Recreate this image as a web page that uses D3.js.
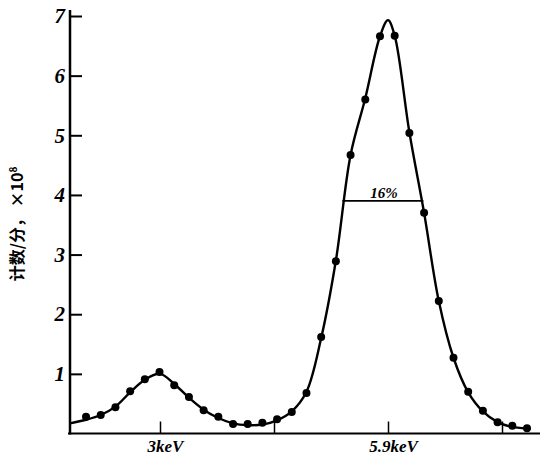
<!DOCTYPE html>
<html>
<head>
<meta charset="utf-8">
<script src="https://cdn.jsdelivr.net/npm/d3@7"></script>
<style>
    body { margin: 0; background: #fff; }
    .tick-label { font-family: 'Liberation Serif', serif; font-style: italic; font-weight: bold; }
</style>
</head>
<body>
<div id="myChart"></div>
<script>
// measured points (energy in keV, counts/min x10^8)
let energies = [2.059, 2.246, 2.433, 2.620, 2.807, 2.994, 3.181, 3.368, 3.555, 3.742,
    3.929, 4.115, 4.302, 4.489, 4.676, 4.863, 5.050, 5.237, 5.424, 5.611,
    5.798, 5.985, 6.172, 6.359, 6.546, 6.733, 6.920, 7.107, 7.294, 7.481, 7.668];
let counts = [0.28, 0.31, 0.44, 0.71, 0.91, 1.03, 0.81, 0.61, 0.39, 0.28,
    0.16, 0.16, 0.18, 0.24, 0.36, 0.68, 1.62, 2.89, 4.67, 5.60,
    6.66, 6.67, 5.04, 3.70, 2.22, 1.27, 0.70, 0.38, 0.19, 0.13, 0.09];

// hand drawn fit curve
let curveE = [1.855, 2.059, 2.246, 2.433, 2.620, 2.807, 3.0, 3.181, 3.368, 3.555, 3.742,
    3.929, 4.115, 4.302, 4.489, 4.676, 4.863, 5.050, 5.237, 5.424, 5.611,
    5.798, 5.9, 5.985, 6.172, 6.359, 6.546, 6.733, 6.920, 7.107, 7.294, 7.481, 7.71];
let curveV = [0.17, 0.23, 0.31, 0.45, 0.69, 0.90, 1.0, 0.83, 0.60, 0.40, 0.26,
    0.17, 0.14, 0.15, 0.22, 0.37, 0.70, 1.60, 2.90, 4.67, 5.62,
    6.66, 6.93, 6.67, 5.05, 3.70, 2.22, 1.27, 0.69, 0.37, 0.19, 0.11, 0.08];

let yTicks = [1, 2, 3, 4, 5, 6, 7];
let xTicks = [3, 4.45, 5.9, 7.35];
let xTickLabels = { 3: '3keV', 5.9: '5.9keV' };
let fwhm = { left: 5.32, right: 6.35, level: 3.9, label: '16%' };

let width = 543, height = 456;

let svg = d3
    .select('#myChart')
    .append('svg')
    .attr('width', width)
    .attr('height', height);

let x = d3.scaleLinear().domain([3, 5.9]).range([160, 388]);
let y = d3.scaleLinear().domain([0, 7]).range([433.5, 16]);

// y axis (ticks pointing inwards)
let yAxis = svg.append('g')
    .attr('transform', 'translate(70,0)')
    .call(d3.axisLeft(y).tickValues(yTicks).tickFormat(d3.format('d'))
        .tickSizeInner(-12).tickSizeOuter(0).tickPadding(5));
yAxis.select('.domain').remove();
yAxis.selectAll('line').attr('stroke', '#000').attr('stroke-width', 2);
yAxis.selectAll('text')
    .attr('class', 'tick-label')
    .style('font-size', '21px')
    .attr('fill', '#000');

svg.append('line')
    .attr('x1', 70).attr('x2', 70)
    .attr('y1', 10).attr('y2', y(0) + 1)
    .attr('stroke', '#000')
    .attr('stroke-width', 2.5);

// x axis
let xAxis = svg.append('g')
    .attr('transform', 'translate(0,' + y(0) + ')')
    .call(d3.axisBottom(x).tickValues(xTicks).tickSizeInner(-12).tickSizeOuter(0).tickPadding(5)
        .tickFormat((d) => xTickLabels[d] || ''));
xAxis.select('.domain').remove();
xAxis.selectAll('line').attr('stroke', '#000').attr('stroke-width', 1.5);
xAxis.selectAll('text')
    .attr('class', 'tick-label')
    .attr('dx', 5)
    .attr('dy', '0.8em')
    .style('font-size', '17px')
    .attr('fill', '#000');

svg.append('line')
    .attr('x1', 68).attr('x2', 540)
    .attr('y1', y(0)).attr('y2', y(0))
    .attr('stroke', '#000')
    .attr('stroke-width', 2.2);

// fitted curve
let line = d3.line()
    .x((d, i) => x(curveE[i]))
    .y((d) => y(d))
    .curve(d3.curveCatmullRom.alpha(0.5));

svg.append('path')
    .datum(curveV)
    .attr('d', line)
    .attr('fill', 'none')
    .attr('stroke', '#000')
    .attr('stroke-width', 2.4);

// data points
svg.selectAll('.dot')
    .data(counts)
    .enter()
    .append('circle')
    .attr('class', 'dot')
    .attr('cx', (d, i) => x(energies[i]))
    .attr('cy', (d) => y(d))
    .attr('r', 4)
    .attr('fill', '#000');

// FWHM marker
svg.append('line')
    .attr('x1', x(fwhm.left)).attr('x2', x(fwhm.right))
    .attr('y1', y(fwhm.level)).attr('y2', y(fwhm.level))
    .attr('stroke', '#000')
    .attr('stroke-width', 1.8);

svg.append('text')
    .attr('class', 'tick-label')
    .attr('x', (x(fwhm.left) + x(fwhm.right)) / 2 + 1)
    .attr('y', y(fwhm.level) - 3)
    .attr('text-anchor', 'middle')
    .style('font-size', '15px')
    .text(fwhm.label);

// y axis title
let title = svg.append('text')
    .attr('transform', 'translate(23,224) rotate(-90)')
    .attr('text-anchor', 'middle')
    .style('font-family', "'Noto Sans CJK SC', sans-serif")
    .style('font-size', '16px')
    .style('font-weight', 'bold');
title.append('tspan').text('计数/分， ×10');
title.append('tspan')
    .attr('dy', -6)
    .style('font-size', '10px')
    .text('8');
</script>
</body>
</html>
